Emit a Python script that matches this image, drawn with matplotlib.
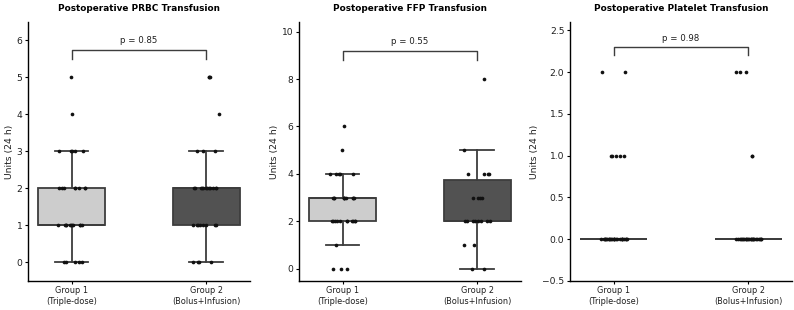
"""
Postoperative transfusion (24 h) by group: box + strip plots.
"""
import matplotlib

matplotlib.use("Agg")
import matplotlib.pyplot as plt
import numpy as np

# units per patient, expanded from value -> count
GROUP_LABELS = ["Group 1\n(Triple-dose)", "Group 2\n(Bolus+Infusion)"]

prbc_g1 = [0] * 5 + [1] * 11 + [2] * 8 + [3] * 5 + [4] + [5]
prbc_g2 = [0] * 4 + [1] * 8 + [2] * 12 + [3] * 3 + [4] + [5] * 3

ffp_g1 = [0] * 3 + [1] + [2] * 11 + [3] * 10 + [4] * 5 + [5] + [6]
ffp_g2 = [0] * 2 + [1] * 2 + [2] * 8 + [3] * 4 + [4] * 4 + [5] + [8]

plt_g1 = [0] * 24 + [1] * 5 + [2] * 2
plt_g2 = [0] * 24 + [1] * 2 + [2] * 3

titles = [
    "Postoperative PRBC Transfusion",
    "Postoperative FFP Transfusion",
    "Postoperative Platelet Transfusion",
]
p_values = ["0.85", "0.55", "0.98"]
panels = [(prbc_g1, prbc_g2), (ffp_g1, ffp_g2), (plt_g1, plt_g2)]

BOX_COLORS = ["#cdcdcd", "#525252"]
EDGE = "#3d3d3d"
TXT = "#1e1e1e"

rng = np.random.default_rng(7)  # jitter only

fig, axes = plt.subplots(1, 3, figsize=(7.94, 3.10), dpi=100)
fig.subplots_adjust(left=0.035, right=0.9975, bottom=0.094, top=0.929, wspace=0.22)

for ax, (g1, g2), title, p in zip(axes, panels, titles, p_values):
    data = [g1, g2]
    bp = ax.boxplot(
        data, positions=[0, 1], widths=0.5, patch_artist=True,
        showfliers=False, whis=1.5,
        boxprops=dict(edgecolor=EDGE, linewidth=1.3),
        whiskerprops=dict(color=EDGE, linewidth=1.3),
        capprops=dict(color=EDGE, linewidth=1.3),
        medianprops=dict(color=EDGE, linewidth=1.3),
    )
    for patch, c in zip(bp["boxes"], BOX_COLORS):
        patch.set_facecolor(c)

    for i, vals in enumerate(data):
        vals = np.asarray(vals, dtype=float)
        x = i + rng.uniform(-0.1, 0.1, len(vals))
        ax.scatter(x, vals, s=7, color="#111111", zorder=3, linewidths=0)

    ymax = max(max(g1), max(g2))
    ax.set_ylim(-0.5, ymax * 1.3)
    ax.set_xlim(-0.325, 1.325)

    # significance bracket
    y_top, y_low = ymax * 1.15, ymax * 1.1
    ax.plot([0, 0, 1, 1], [y_low, y_top, y_top, y_low], color=EDGE, lw=1.0)
    ax.text(0.5, y_top + ymax * 0.025, f"p = {p}", ha="center", va="bottom",
            fontsize=6.2, color=TXT)

    ax.set_xticks([0, 1])
    ax.set_xticklabels(GROUP_LABELS, fontsize=5.9, color=TXT)
    ax.tick_params(axis="y", labelsize=6.6, length=2.5, width=0.8, pad=1.5,
                   labelcolor=TXT)
    ax.tick_params(axis="x", length=2.5, width=0.8, pad=1.5)
    ax.set_ylabel("Units (24 h)", fontsize=6.7, labelpad=2, color=TXT)
    ax.set_title(title, fontsize=6.4, fontweight="bold", pad=8)
    for side in ("top", "right"):
        ax.spines[side].set_visible(False)
    for side in ("left", "bottom"):
        ax.spines[side].set_linewidth(1.0)

fig.savefig("out.png", dpi=100)
